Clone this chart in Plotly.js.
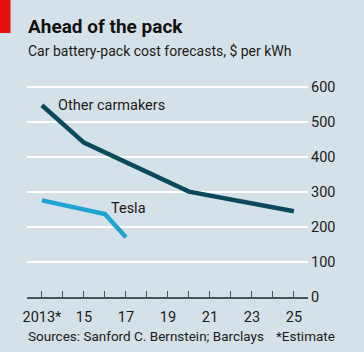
<!DOCTYPE html>
<html>
<head>
<meta charset="utf-8">
<script src="https://cdn.plot.ly/plotly-3.0.1.min.js"></script>
<style>
html,body{margin:0;padding:0;background:#d5e1e8;}
#chart{width:364px;height:352px;}
</style>
</head>
<body>
<div id="chart"></div>
<script>
const otherYears = [2013, 2015, 2020, 2025];
const otherCost = [548, 441, 301, 245];
const teslaYears = [2013, 2016, 2017];
const teslaCost = [276, 237, 171];
const xTickVals = [2013,2014,2015,2016,2017,2018,2019,2020,2021,2022,2023,2024,2025];
const xTickText = ["2013*","","15","","17","","19","","21","","23","","25"];
const yTickVals = [0,100,200,300,400,500,600];

const FONT = 'Roboto, "Noto Sans", sans-serif';
const TXT = '#1b1b1b';

const traces = [
  {x: otherYears, y: otherCost, type: 'scatter', mode: 'lines',
   line: {color: '#0b4a5a', width: 4.5}, hoverinfo: 'skip'},
  {x: teslaYears, y: teslaCost, type: 'scatter', mode: 'lines',
   line: {color: '#1fa3d3', width: 4.5}, hoverinfo: 'skip'}
];

const layout = {
  width: 364, height: 352,
  margin: {l: 27, r: 56, t: 80, b: 55},
  paper_bgcolor: '#d5e1e8', plot_bgcolor: '#d5e1e8',
  showlegend: false,
  font: {family: FONT, size: 14, color: TXT},
  xaxis: {
    range: [2012.29, 2025.67], tickvals: xTickVals, ticktext: xTickText,
    showgrid: false, zeroline: false, showline: true,
    linecolor: '#4a5258', linewidth: 1.5,
    ticks: 'inside', ticklen: 6, tickwidth: 1, tickcolor: '#4a5258',
    ticklabelstandoff: 6,
    tickfont: {family: FONT, size: 14.5, color: TXT}, fixedrange: true
  },
  yaxis: {
    range: [0, 620], side: 'right', tickvals: yTickVals,
    showgrid: true, gridcolor: '#ffffff', gridwidth: 2,
    zeroline: false, showline: false, ticks: '',
    ticklabelstandoff: 2,
    tickfont: {family: FONT, size: 14.5, color: TXT}, fixedrange: true
  },
  shapes: [
    {type: 'rect', xref: 'paper', yref: 'paper', x0: -0.0961, x1: -0.0587, y0: 1.2166, y1: 1.3687,
     fillcolor: '#e3120b', line: {width: 0}}
  ],
  annotations: [
    {text: '<b>Ahead of the pack</b>', xref: 'paper', yref: 'paper', x: -0.004, y: 1.2488,
     xanchor: 'left', yanchor: 'middle', showarrow: false,
     font: {family: FONT, size: 19, color: '#111'}},
    {text: 'Car battery-pack cost forecasts, $ per kWh', xref: 'paper', yref: 'paper', x: -0.004, y: 1.1336,
     xanchor: 'left', yanchor: 'middle', showarrow: false,
     font: {family: FONT, size: 14, color: TXT}},
    {text: 'Sources: Sanford C. Bernstein; Barclays', xref: 'paper', yref: 'paper', x: -0.004, y: -0.1797,
     xanchor: 'left', yanchor: 'middle', showarrow: false,
     font: {family: FONT, size: 13.5, color: TXT}},
    {text: '*Estimate', xref: 'paper', yref: 'paper', x: 1.1032, y: -0.1797,
     xanchor: 'right', yanchor: 'middle', showarrow: false,
     font: {family: FONT, size: 13.5, color: TXT}},
    {text: 'Other carmakers', x: 2013.67, y: 546, xanchor: 'left', yanchor: 'middle', showarrow: false,
     font: {family: FONT, size: 14.5, color: TXT}},
    {text: 'Tesla', x: 2016.19, y: 254, xanchor: 'left', yanchor: 'middle', showarrow: false,
     font: {family: FONT, size: 14.5, color: TXT}}
  ]
};

Plotly.newPlot('chart', traces, layout, {staticPlot: true, displayModeBar: false});
</script>
</body>
</html>
